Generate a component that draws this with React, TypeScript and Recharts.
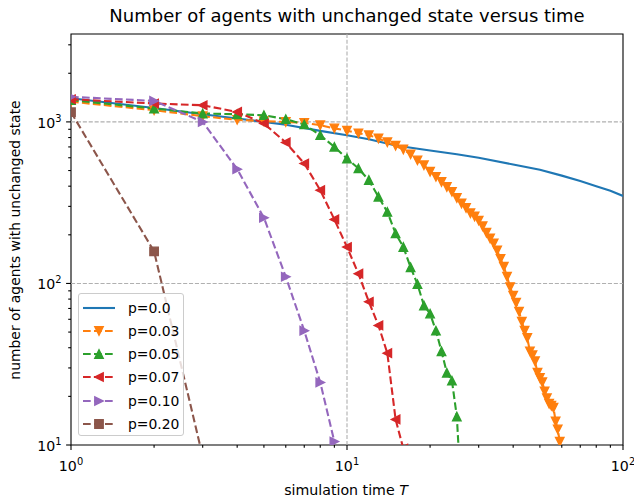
import React from 'react';
import { LineChart, Line, XAxis, YAxis, ReferenceLine, ReferenceArea, Legend } from 'recharts';

// time steps for the p=0.0 curve (solid, no markers)
const T_P00 = [1, 2, 3, 4, 5, 6, 8, 10, 12, 15, 20, 25, 30, 40, 50, 60, 70, 80, 90, 100];
const N_P00 = [1400, 1220, 1116, 1050, 1000, 960, 880, 827, 780, 715, 665, 630, 600, 545, 505, 465, 430, 400, 375, 348];

// the other curves are sampled at T = 1, 2, 3, ...
const N_P03 = [
  1334, 1181, 1085, 1030, 1010, 1000, 985, 955, 912, 882,
  850, 828, 790, 748, 712, 675, 630, 578, 540, 492,
  457, 425, 396, 369, 338, 313, 293, 272, 260, 245,
  226, 206, 190, 177, 160, 142, 127, 110, 95, 84,
  76, 67, 58, 51, 46, 38, 36, 33, 28, 26,
  24.5, 21.5, 19.5, 18, 17.5, 17, 14, 12.5, 10.5, 9,
];
const N_P05 = [
  1363, 1210, 1127, 1115, 1100, 1040, 964, 827, 700, 593,
  515, 436, 344, 277, 204, 168, 126, 99, 73, 65,
  51, 38, 28, 25, 15, 4.5,
];
const N_P07 = [1381, 1300, 1268, 1153, 977, 746, 553, 378, 249, 168, 115, 77, 55, 37, 14.4, 9.5];
const N_P10 = [1429, 1349, 1000, 510, 255, 110, 51, 24.4, 10.5];
const N_P20 = [1148, 158, 8.5];

const X_TICKS = [1, 2, 3, 4, 5, 6, 7, 8, 9, 10, 20, 30, 40, 50, 60, 70, 80, 90, 100];
const Y_TICKS = [10, 20, 30, 40, 50, 60, 70, 80, 90, 100, 200, 300, 400, 500, 600, 700, 800, 900, 1000, 2000, 3000];
const MAJOR = [1, 10, 100, 1000];

const steps = (vals: number[]) => vals.map((n, i) => ({ t: i + 1, n }));

const SERIES = [
  { name: 'p=0.0', color: '#1f77b4', marker: null, dashed: false, data: T_P00.map((t, i) => ({ t, n: N_P00[i] })) },
  { name: 'p=0.03', color: '#ff7f0e', marker: 'down', dashed: true, data: steps(N_P03) },
  { name: 'p=0.05', color: '#2ca02c', marker: 'up', dashed: true, data: steps(N_P05) },
  { name: 'p=0.07', color: '#d62728', marker: 'left', dashed: true, data: steps(N_P07) },
  { name: 'p=0.10', color: '#9467bd', marker: 'right', dashed: true, data: steps(N_P10) },
  { name: 'p=0.20', color: '#8c564b', marker: 'square', dashed: true, data: steps(N_P20) },
];

const FONT = '"DejaVu Sans", sans-serif';
const R = 4.2;

function markerPath(shape: string, cx: number, cy: number) {
  switch (shape) {
    case 'down': return `M${cx - R},${cy - R}L${cx + R},${cy - R}L${cx},${cy + R}Z`;
    case 'up': return `M${cx - R},${cy + R}L${cx + R},${cy + R}L${cx},${cy - R}Z`;
    case 'left': return `M${cx + R},${cy - R}L${cx + R},${cy + R}L${cx - R},${cy}Z`;
    case 'right': return `M${cx - R},${cy - R}L${cx - R},${cy + R}L${cx + R},${cy}Z`;
    default: return `M${cx - R},${cy - R}L${cx + R},${cy - R}L${cx + R},${cy + R}L${cx - R},${cy + R}Z`;
  }
}

const makeDot = (shape: string, color: string) => (props: any) => {
  const { cx, cy, index } = props;
  if (cx == null || cy == null) return <g key={`d-${index}`} />;
  return <path key={`d-${index}`} d={markerPath(shape, cx, cy)} fill={color} stroke={color} strokeWidth={1.4} strokeLinejoin="miter" />;
};

const XTick = (props: any) => {
  const { x, y, payload } = props;
  const v = payload.value;
  const major = MAJOR.includes(v);
  return (
    <g>
      <line x1={x} x2={x} y1={y} y2={y + (major ? 4.9 : 2.8)} stroke="#000" strokeWidth={1.1} />
      {major && (
        <text x={x} y={y + 26} textAnchor="middle" fontFamily={FONT} fontSize={14.2} fill="#000">
          10<tspan dy={-6} fontSize={9.9}>{Math.round(Math.log10(v))}</tspan>
        </text>
      )}
    </g>
  );
};

const YTick = (props: any) => {
  const { x, y, payload } = props;
  const v = payload.value;
  const major = MAJOR.includes(v);
  return (
    <g>
      <line x1={x} x2={x - (major ? 4.9 : 2.8)} y1={y} y2={y} stroke="#000" strokeWidth={1.1} />
      {major && (
        <text x={x - 9.5} y={y + 6} textAnchor="end" fontFamily={FONT} fontSize={14.2} fill="#000">
          10<tspan dy={-6} fontSize={9.9}>{Math.round(Math.log10(v))}</tspan>
        </text>
      )}
    </g>
  );
};

const LegendBox = () => (
  <div
    style={{
      width: 106, height: 143, boxSizing: 'border-box', background: 'rgba(255,255,255,0.8)',
      border: '1px solid #cccccc', borderRadius: 3, fontFamily: FONT, fontSize: 13.9, color: '#000',
    }}
  >
    {SERIES.map((s, i) => (
      <div key={s.name} style={{ position: 'absolute', left: 5, top: 3 + i * 23.3, height: 23, display: 'flex', alignItems: 'center' }}>
        <svg width={34} height={16} style={{ display: 'block' }}>
          <line x1={0} x2={32} y1={8} y2={8} stroke={s.color} strokeWidth={2.1} strokeDasharray={s.dashed ? '7.7 3.3' : undefined} />
          {s.marker && <path d={markerPath(s.marker, 16, 8)} fill={s.color} stroke={s.color} strokeWidth={1.4} />}
        </svg>
        <span style={{ marginLeft: 11, lineHeight: '16px' }}>{s.name}</span>
      </div>
    ))}
  </div>
);

export default function App() {
  return (
    <div style={{ position: 'absolute', left: 0, top: 0, width: 634, height: 502, background: '#fff' }}>
      <LineChart width={634} height={502} margin={{ top: 34, right: 11, left: 0, bottom: 0 }}>
        <XAxis
          dataKey="t" type="number" scale="log" domain={[1, 100]} allowDataOverflow
          ticks={X_TICKS} interval={0} tick={<XTick />} tickSize={0} tickMargin={0}
          axisLine={false} tickLine={false} height={57}
        />
        <YAxis
          dataKey="n" type="number" scale="log" domain={[10, 3500]} allowDataOverflow
          ticks={Y_TICKS} interval={0} tick={<YTick />} tickSize={0} tickMargin={0}
          axisLine={false} tickLine={false} width={71}
        />
        <ReferenceLine x={10} stroke="#b0b0b0" strokeWidth={1.1} strokeDasharray="4.1 1.8" />
        <ReferenceLine y={100} stroke="#b0b0b0" strokeWidth={1.1} strokeDasharray="4.1 1.8" />
        <ReferenceLine y={1000} stroke="#b0b0b0" strokeWidth={1.1} strokeDasharray="4.1 1.8" />
        {SERIES.map((s) => (
          <Line
            key={s.name}
            data={s.data}
            dataKey="n"
            name={s.name}
            type="linear"
            stroke={s.color}
            strokeWidth={2.1}
            strokeDasharray={s.dashed ? '7.7 3.3' : undefined}
            dot={s.marker ? makeDot(s.marker, s.color) : false}
            activeDot={false}
            isAnimationActive={false}
          />
        ))}
        <ReferenceArea x1={1} x2={100} y1={10} y2={3500} fill="none" fillOpacity={0} stroke="#000" strokeWidth={1.1} />
        <Legend
          layout="vertical" align="center" verticalAlign="middle"
          content={<LegendBox />}
          wrapperStyle={{ left: 78, top: 293, width: 106, height: 143 }}
        />
      </LineChart>
      <svg width={634} height={502} style={{ position: 'absolute', left: 0, top: 0, pointerEvents: 'none' }}>
        <text x={347} y={22} textAnchor="middle" fontFamily={FONT} fontSize={18} fill="#000">
          Number of agents with unchanged state versus time
        </text>
        <text x={346} y={495} textAnchor="middle" fontFamily={FONT} fontSize={14.2} fill="#000">
          simulation time <tspan fontStyle="italic">T</tspan>
        </text>
        <text x={20} y={240} transform="rotate(-90 20 240)" textAnchor="middle" fontFamily={FONT} fontSize={13.9} fill="#000">
          number of agents with unchanged state
        </text>
      </svg>
    </div>
  );
}
